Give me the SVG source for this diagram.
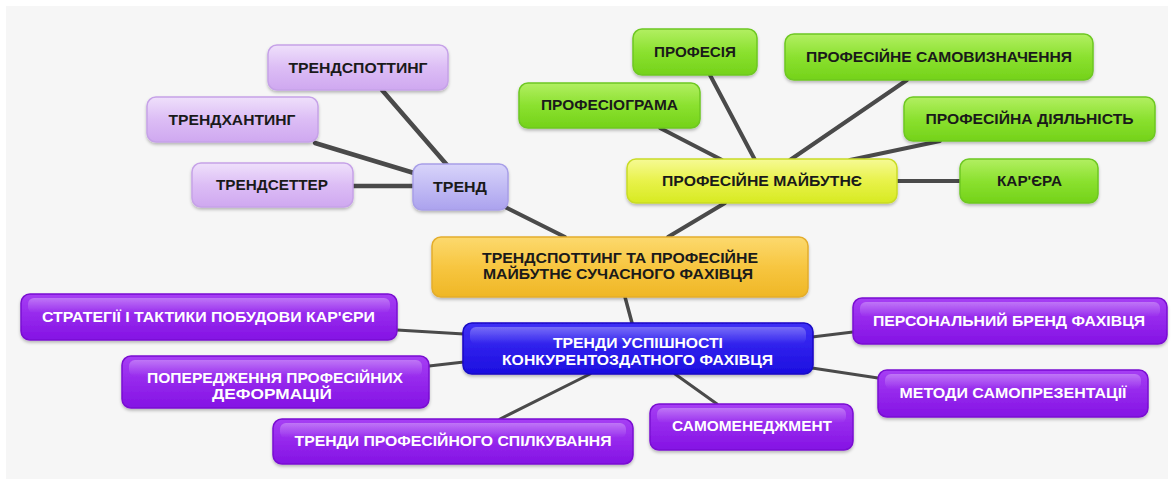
<svg xmlns="http://www.w3.org/2000/svg" width="1174" height="485" viewBox="0 0 1174 485">
<defs>
<linearGradient id="gLav" x1="0" y1="0" x2="0" y2="1"><stop offset="0" stop-color="#efe0fb"/><stop offset="0.5" stop-color="#dcbdf5"/><stop offset="1" stop-color="#cfa8f0"/></linearGradient>
<linearGradient id="gTrend" x1="0" y1="0" x2="0" y2="1"><stop offset="0" stop-color="#d8d4fa"/><stop offset="1" stop-color="#aba2ee"/></linearGradient>
<linearGradient id="gGreen" x1="0" y1="0" x2="0" y2="1"><stop offset="0" stop-color="#b2ef62"/><stop offset="0.5" stop-color="#8be12f"/><stop offset="1" stop-color="#74d21a"/></linearGradient>
<linearGradient id="gYel" x1="0" y1="0" x2="0" y2="1"><stop offset="0" stop-color="#f6fa95"/><stop offset="0.5" stop-color="#e8f24a"/><stop offset="1" stop-color="#d7ea22"/></linearGradient>
<linearGradient id="gGold" x1="0" y1="0" x2="0" y2="1"><stop offset="0" stop-color="#fcd96e"/><stop offset="0.5" stop-color="#f7c640"/><stop offset="1" stop-color="#efb726"/></linearGradient>
<linearGradient id="gBlue" x1="0" y1="0" x2="0" y2="1"><stop offset="0" stop-color="#3f30f6"/><stop offset="1" stop-color="#1c0ee0"/></linearGradient>
<linearGradient id="gPur" x1="0" y1="0" x2="0" y2="1"><stop offset="0" stop-color="#a63ef4"/><stop offset="1" stop-color="#8412e4"/></linearGradient>
<linearGradient id="gHi" x1="0" y1="0" x2="0" y2="1"><stop offset="0" stop-color="#ffffff" stop-opacity="0.3"/><stop offset="1" stop-color="#ffffff" stop-opacity="0"/></linearGradient>
<filter id="sh" x="-10%" y="-20%" width="120%" height="150%"><feDropShadow dx="0" dy="2" stdDeviation="1.5" flood-color="#000" flood-opacity="0.25"/></filter>
</defs>
<style>
.lav{fill:url(#gLav);stroke:#c6a2e8;stroke-width:1.5}
.trd{fill:url(#gTrend);stroke:#a89fe8;stroke-width:1.5}
.grn{fill:url(#gGreen);stroke:#6ec822;stroke-width:1.5}
.yel{fill:url(#gYel);stroke:#c9dc26;stroke-width:1.5}
.gold{fill:url(#gGold);stroke:#e4ad2c;stroke-width:1.5}
.blu{fill:url(#gBlue);stroke:#1808c4;stroke-width:1.5}
.pur{fill:url(#gPur);stroke:#7a0ed2;stroke-width:1.5}
.hi{fill:url(#gHi)}
rect.box{filter:url(#sh)}
text{font-family:"Liberation Sans",Arial,sans-serif;font-weight:bold;font-size:14px;text-anchor:middle}
.dk{fill:#1a1a1a}
.wt{fill:#ffffff}
#connectors line{stroke:#4a4a4a;stroke-linecap:round}
</style>
<rect width="1174" height="485" fill="#ffffff"/>
<rect x="6" y="6" width="1162" height="473" fill="#f6f6f6"/>
<g id="connectors">
<line x1="382" y1="90" x2="447" y2="165" stroke-width="4.5"/>
<line x1="315" y1="143" x2="414" y2="173" stroke-width="4.5"/>
<line x1="353" y1="186" x2="414" y2="186" stroke-width="4.5"/>
<line x1="505" y1="207" x2="565" y2="237" stroke-width="4"/>
<line x1="710" y1="75" x2="755" y2="160" stroke-width="4"/>
<line x1="660" y1="128" x2="722" y2="160" stroke-width="4"/>
<line x1="907" y1="80" x2="790" y2="160" stroke-width="4"/>
<line x1="940" y1="141" x2="850" y2="160" stroke-width="4"/>
<line x1="897" y1="181" x2="960" y2="181" stroke-width="4"/>
<line x1="725" y1="203" x2="668" y2="237" stroke-width="4"/>
<line x1="625" y1="297" x2="632" y2="323" stroke-width="3.5"/>
<line x1="397" y1="330" x2="464" y2="334" stroke-width="3"/>
<line x1="429" y1="366" x2="464" y2="362" stroke-width="3"/>
<line x1="500" y1="419" x2="590" y2="374" stroke-width="3"/>
<line x1="717" y1="404" x2="675" y2="374" stroke-width="3"/>
<line x1="812" y1="337" x2="853" y2="332" stroke-width="3"/>
<line x1="812" y1="368" x2="878" y2="378" stroke-width="3"/>
</g>
<g id="n-trendspotting"><rect class="box lav" x="268" y="45" width="180" height="45" rx="9"/><text class="dk" x="358" y="72.5" textLength="139" lengthAdjust="spacingAndGlyphs">ТРЕНДСПОТТИНГ</text></g>
<g id="n-trendhunting"><rect class="box lav" x="147" y="97" width="171" height="45" rx="9"/><text class="dk" x="232" y="124.5" textLength="127" lengthAdjust="spacingAndGlyphs">ТРЕНДХАНТИНГ</text></g>
<g id="n-trendsetter"><rect class="box lav" x="192" y="163" width="161" height="44" rx="9"/><text class="dk" x="272" y="190" textLength="112" lengthAdjust="spacingAndGlyphs">ТРЕНДСЕТТЕР</text></g>
<g id="n-trend"><rect class="box trd" x="413" y="164" width="95" height="46" rx="9"/><text class="dk" x="460" y="192" textLength="54" lengthAdjust="spacingAndGlyphs">ТРЕНД</text></g>
<g id="n-profesiia"><rect class="box grn" x="633" y="29" width="124" height="46" rx="9"/><text class="dk" x="695" y="57" textLength="82" lengthAdjust="spacingAndGlyphs">ПРОФЕСІЯ</text></g>
<g id="n-profesiograma"><rect class="box grn" x="519" y="83" width="181" height="45" rx="9"/><text class="dk" x="609.5" y="110" textLength="137" lengthAdjust="spacingAndGlyphs">ПРОФЕСІОГРАМА</text></g>
<g id="n-samovyznachennia"><rect class="box grn" x="785" y="34" width="308" height="46" rx="9"/><text class="dk" x="939" y="61.5" textLength="266" lengthAdjust="spacingAndGlyphs">ПРОФЕСІЙНЕ САМОВИЗНАЧЕННЯ</text></g>
<g id="n-diialnist"><rect class="box grn" x="904" y="97" width="251" height="44" rx="9"/><text class="dk" x="1029.5" y="124" textLength="208" lengthAdjust="spacingAndGlyphs">ПРОФЕСІЙНА ДІЯЛЬНІСТЬ</text></g>
<g id="n-maibutnie"><rect class="box yel" x="627" y="159" width="270" height="44" rx="9"/><text class="dk" x="762" y="186" textLength="200" lengthAdjust="spacingAndGlyphs">ПРОФЕСІЙНЕ МАЙБУТНЄ</text></g>
<g id="n-kariera"><rect class="box grn" x="960" y="159" width="138" height="44" rx="9"/><text class="dk" x="1029.5" y="186" textLength="65" lengthAdjust="spacingAndGlyphs">КАР'ЄРА</text></g>
<g id="n-center"><rect class="box gold" x="432" y="237" width="376" height="60" rx="9"/><text class="dk" x="620" y="263" textLength="276" lengthAdjust="spacingAndGlyphs">ТРЕНДСПОТТИНГ ТА ПРОФЕСІЙНЕ</text><text class="dk" x="618" y="279" textLength="270" lengthAdjust="spacingAndGlyphs">МАЙБУТНЄ СУЧАСНОГО ФАХІВЦЯ</text></g>
<g id="n-trendy"><rect class="box blu" x="463" y="323" width="350" height="51" rx="9"/><rect class="hi" x="470" y="327" width="336" height="17" rx="6"/><text class="wt" x="638" y="348" textLength="170" lengthAdjust="spacingAndGlyphs">ТРЕНДИ УСПІШНОСТІ</text><text class="wt" x="637.5" y="365" textLength="271" lengthAdjust="spacingAndGlyphs">КОНКУРЕНТОЗДАТНОГО ФАХІВЦЯ</text></g>
<g id="n-stratehii"><rect class="box pur" x="21" y="294" width="376" height="46" rx="9"/><rect class="hi" x="28" y="298" width="362" height="15" rx="6"/><text class="wt" x="208.5" y="322" textLength="333" lengthAdjust="spacingAndGlyphs">СТРАТЕГІЇ І ТАКТИКИ ПОБУДОВИ КАР'ЄРИ</text></g>
<g id="n-poperedzhennia"><rect class="box pur" x="122" y="356" width="307" height="52" rx="9"/><rect class="hi" x="129" y="360" width="293" height="16" rx="6"/><text class="wt" x="275" y="383" textLength="256" lengthAdjust="spacingAndGlyphs">ПОПЕРЕДЖЕННЯ ПРОФЕСІЙНИХ</text><text class="wt" x="272" y="399" textLength="120" lengthAdjust="spacingAndGlyphs">ДЕФОРМАЦІЙ</text></g>
<g id="n-spilkuvannia"><rect class="box pur" x="273" y="419" width="360" height="45" rx="9"/><rect class="hi" x="280" y="423" width="346" height="15" rx="6"/><text class="wt" x="453" y="446" textLength="317" lengthAdjust="spacingAndGlyphs">ТРЕНДИ ПРОФЕСІЙНОГО СПІЛКУВАННЯ</text></g>
<g id="n-samomenedzhment"><rect class="box pur" x="650" y="404" width="203" height="46" rx="9"/><rect class="hi" x="657" y="408" width="189" height="15" rx="6"/><text class="wt" x="752" y="431" textLength="160" lengthAdjust="spacingAndGlyphs">САМОМЕНЕДЖМЕНТ</text></g>
<g id="n-brend"><rect class="box pur" x="853" y="298" width="314" height="46" rx="9"/><rect class="hi" x="860" y="302" width="300" height="15" rx="6"/><text class="wt" x="1009" y="326" textLength="272" lengthAdjust="spacingAndGlyphs">ПЕРСОНАЛЬНИЙ БРЕНД ФАХІВЦЯ</text></g>
<g id="n-metody"><rect class="box pur" x="878" y="370" width="270" height="47" rx="9"/><rect class="hi" x="885" y="374" width="256" height="15" rx="6"/><text class="wt" x="1013" y="398" textLength="227" lengthAdjust="spacingAndGlyphs">МЕТОДИ САМОПРЕЗЕНТАЦІЇ</text></g>
</svg>
